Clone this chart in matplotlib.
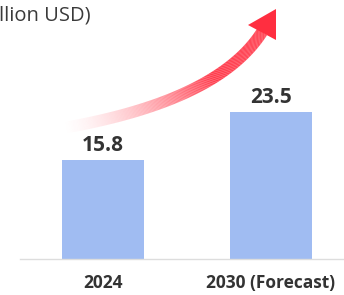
import numpy as np
import matplotlib.pyplot as plt
from matplotlib.collections import LineCollection
from matplotlib.patches import Polygon
from matplotlib.colors import to_rgb

# data
categories = ['2024', '2030 (Forecast)']
values = [15.8, 23.5]
value_labels = ['15.8', '23.5']
title = 'Market Size (Billion USD)'

bar_color = '#a0bcf2'
text_color = '#333333'
arrow_color = '#ff2e40'

W, H = 344, 295
fig = plt.figure(figsize=(W / 100, H / 100), dpi=100)

# bar axes: baseline at y=259px, x from 20px to 344px
ax = fig.add_axes([20 / W, (H - 259) / H, 324 / W, 187.5 / H])
x = np.arange(len(categories))
ax.bar(x, values, width=0.488, color=bar_color)
ax.set_xlim(-0.494, 1.435)
ax.set_ylim(0, 30)
for xi, v, lab in zip(x, values, value_labels):
    ax.text(xi, v + 0.7, lab, ha='center', va='bottom', fontsize=15,
            fontweight='bold', color=text_color, family='Open Sans',
            clip_on=False)
ax.set_xticks(x)
ax.set_xticklabels(categories, fontsize=12.5, fontweight='bold',
                   color=text_color, family='Open Sans')
ax.tick_params(axis='x', length=0, pad=11)
ax.set_yticks([])
for s in ['top', 'right', 'left']:
    ax.spines[s].set_visible(False)
ax.spines['bottom'].set_color('#dddddd')
ax.spines['bottom'].set_linewidth(1)

# overlay in pixel coordinates for the title and growth arrow
ov = fig.add_axes([0, 0, 1, 1])
ov.set_xlim(0, W)
ov.set_ylim(H, 0)
ov.axis('off')
ov.patch.set_alpha(0)

# title runs off the left edge, as in the original
ov.text(91, 15, title, ha='right', va='center', fontsize=14.5,
        color='#3a3a3a', family='Open Sans')

# gradient curved shaft (quadratic bezier)
p0 = np.array([63.0, 128.0])
p2 = np.array([262.0, 32.0])
p1 = np.array([218.0, 101.0])
s = np.linspace(0, 1, 200)
pts = ((1 - s)[:, None] ** 2 * p0 + 2 * ((1 - s) * s)[:, None] * p1
       + (s ** 2)[:, None] * p2)
segs = np.stack([pts[:-1], pts[1:]], axis=1)
rgb = to_rgb(arrow_color)
alpha = np.clip(s[:-1] * 1.6, 0, 1) ** 1.4
cols = [(rgb[0], rgb[1], rgb[2], a) for a in alpha]
lc = LineCollection(segs, colors=cols, linewidths=8.5, capstyle='butt')
ov.add_collection(lc)

head = Polygon([[276, 9], [248, 25], [276, 40]], closed=True,
               color=arrow_color, lw=0)
ov.add_patch(head)

fig.savefig('out.png', dpi=100)
